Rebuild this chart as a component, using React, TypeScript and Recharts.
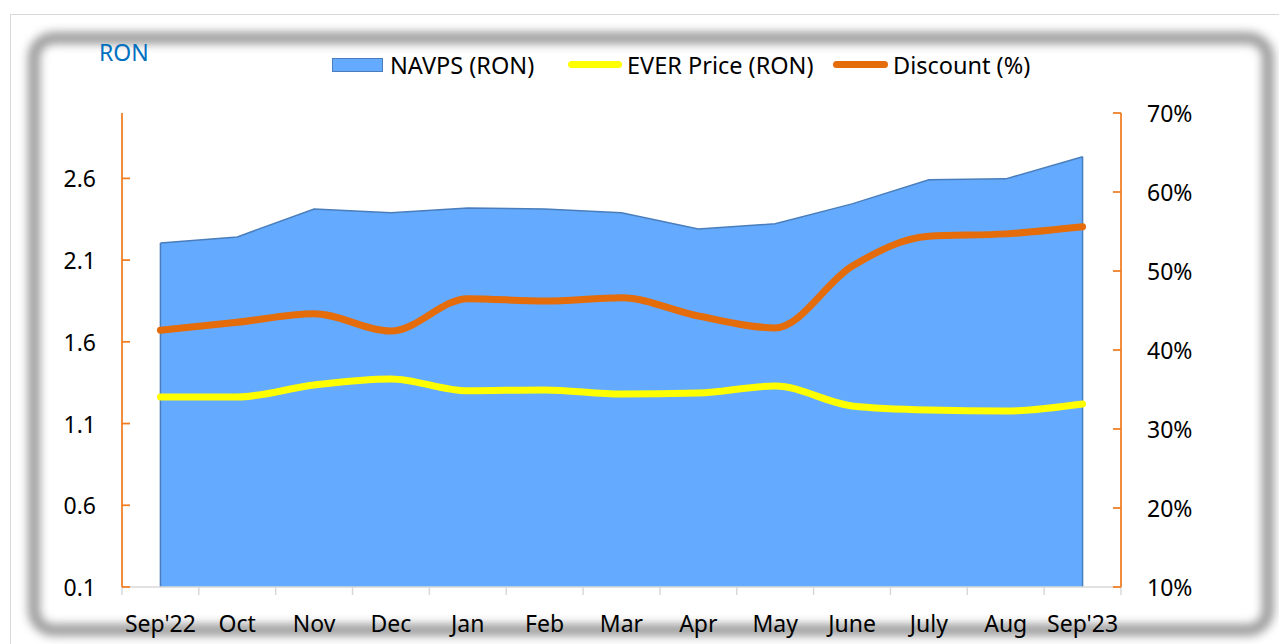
import React from 'react';
import { ComposedChart, Area, Line, XAxis, YAxis, ReferenceLine } from 'recharts';

const categories = ["Sep'22", 'Oct', 'Nov', 'Dec', 'Jan', 'Feb', 'Mar', 'Apr', 'May', 'June', 'July', 'Aug', "Sep'23"];
const navps = [2.205, 2.242, 2.413, 2.389, 2.419, 2.413, 2.389, 2.291, 2.322, 2.444, 2.591, 2.597, 2.732];
const everPrice = [1.263, 1.263, 1.336, 1.373, 1.3, 1.306, 1.281, 1.287, 1.33, 1.208, 1.183, 1.177, 1.22];
const discount = [42.5, 43.5, 44.6, 42.4, 46.5, 46.2, 46.6, 44.3, 42.8, 50.6, 54.4, 54.7, 55.6];
const leftTicks = [0.1, 0.6, 1.1, 1.6, 2.1, 2.6];
const rightTicks = [10, 20, 30, 40, 50, 60, 70];

const data = categories.map((c, i) => ({ name: c, navps: navps[i], ever: everPrice[i], discount: discount[i] }));

const FONT = '"Noto Sans", "Open Sans", sans-serif';
const ORANGE_AXIS = '#F07D22';
const BLUE_FILL = '#64AAFE';
const BLUE_STROKE = '#4A7EBB';
const YELLOW = '#FFFF00';
const ORANGE = '#E46C0A';
const GRAY = '#D9D9D9';

const LeftTick = (props: any) => {
  const { x, y, payload } = props;
  return (
    <g>
      <line x1={x} x2={x + 8} y1={y} y2={y} stroke={ORANGE_AXIS} strokeWidth={1.75} />
      <text x={x - 26} y={y} textAnchor="end" dominantBaseline="central" fontSize={23} fontFamily={FONT} fill="#000">
        {Number(payload.value).toFixed(1)}
      </text>
    </g>
  );
};

const RightTick = (props: any) => {
  const { x, y, payload } = props;
  return (
    <g>
      <line x1={x} x2={x - 8} y1={y} y2={y} stroke={ORANGE_AXIS} strokeWidth={1.75} />
      <text x={x + 26} y={y} textAnchor="start" dominantBaseline="central" fontSize={23} fontFamily={FONT} fill="#000">
        {`${payload.value}%`}
      </text>
    </g>
  );
};

const BottomTick = (props: any) => {
  const { x, y, payload, index } = props;
  const off = payload && typeof payload.offset === 'number' && payload.offset > 0 ? payload.offset : 38.4;
  const last = index === categories.length - 1;
  return (
    <g>
      <line x1={x - off} x2={x - off} y1={y} y2={y + 8} stroke={GRAY} strokeWidth={1.5} />
      {last && <line x1={x + off} x2={x + off} y1={y} y2={y + 8} stroke={GRAY} strokeWidth={1.5} />}
      <text x={x} y={y + 36} textAnchor="middle" dominantBaseline="central" fontSize={23} fontFamily={FONT} fill="#000">
        {payload.value}
      </text>
    </g>
  );
};

const LegendBlock = () => {
  const textStyle: React.CSSProperties = { position: 'absolute', top: 0, fontSize: 23.5, fontFamily: FONT, color: '#000', lineHeight: '32px', whiteSpace: 'nowrap' };
  return (
    <div style={{ position: 'absolute', left: 0, top: 49, width: 1279, height: 32 }}>
      <div style={{ position: 'absolute', left: 332, top: 9, width: 49, height: 12, background: BLUE_FILL, border: `1px solid ${BLUE_STROKE}` }} />
      <div style={{ ...textStyle, left: 390 }}>NAVPS (RON)</div>
      <div style={{ position: 'absolute', left: 568, top: 12, width: 54, height: 7, background: YELLOW, borderRadius: 4 }} />
      <div style={{ ...textStyle, left: 627 }}>EVER Price (RON)</div>
      <div style={{ position: 'absolute', left: 833, top: 12, width: 55, height: 7, background: ORANGE, borderRadius: 4 }} />
      <div style={{ ...textStyle, left: 893 }}>Discount (%)</div>
    </div>
  );
};

const firstCat = categories[0];
const lastCat = categories[categories.length - 1];

export default function App() {
  return (
    <div style={{ position: 'absolute', left: 0, top: 0, width: 1279, height: 644, background: '#fff', overflow: 'hidden' }}>
      <div style={{ position: 'absolute', left: 10, top: 14, width: 1300, height: 700, borderLeft: `1.5px solid ${GRAY}`, borderTop: `1.5px solid ${GRAY}` }} />
      <div style={{ position: 'absolute', left: 28, top: 32, width: 1222, height: 580, border: '12px solid #9c9c9c', borderRadius: 26, filter: 'blur(5px)' }} />
      <div style={{ position: 'absolute', left: 99, top: 36, fontSize: 23, fontFamily: FONT, color: '#0070C0' }}>RON</div>
      <LegendBlock />
      <div style={{ position: 'absolute', left: 0, top: 0 }}>
        <ComposedChart width={1279} height={644} data={data} margin={{ top: 113, right: 78, bottom: 17, left: 62 }}>
          <XAxis dataKey="name" scale="band" stroke={GRAY} strokeWidth={1.5} tickLine={false} tickSize={0} tickMargin={0} height={40} tick={<BottomTick />} interval={0} />
          <YAxis yAxisId="left" orientation="left" domain={[0.1, 3.0]} ticks={leftTicks} width={60} stroke={ORANGE_AXIS} strokeWidth={1.75} tickLine={false} tickSize={0} tickMargin={0} tick={<LeftTick />} allowDataOverflow />
          <YAxis yAxisId="right" orientation="right" domain={[10, 70]} ticks={rightTicks} width={80} stroke={ORANGE_AXIS} strokeWidth={1.75} tickLine={false} tickSize={0} tickMargin={0} tick={<RightTick />} allowDataOverflow />
          <Area yAxisId="left" type="linear" dataKey="navps" fill={BLUE_FILL} fillOpacity={1} stroke={BLUE_STROKE} strokeWidth={1.5} isAnimationActive={false} dot={false} activeDot={false} />
          <ReferenceLine yAxisId="left" segment={[{ x: firstCat, y: leftTicks[0] }, { x: firstCat, y: navps[0] }]} stroke={BLUE_STROKE} strokeWidth={1.5} />
          <ReferenceLine yAxisId="left" segment={[{ x: lastCat, y: leftTicks[0] }, { x: lastCat, y: navps[navps.length - 1] }]} stroke={BLUE_STROKE} strokeWidth={1.5} />
          <Line yAxisId="left" type="monotone" dataKey="ever" stroke={YELLOW} strokeWidth={7} strokeLinecap="round" dot={false} activeDot={false} isAnimationActive={false} />
          <Line yAxisId="right" type="monotone" dataKey="discount" stroke={ORANGE} strokeWidth={7} strokeLinecap="round" dot={false} activeDot={false} isAnimationActive={false} />
        </ComposedChart>
      </div>
    </div>
  );
}
